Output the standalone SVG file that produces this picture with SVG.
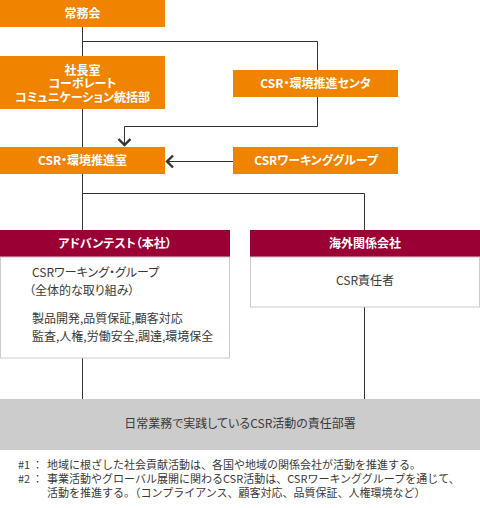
<svg xmlns="http://www.w3.org/2000/svg" width="480" height="508" viewBox="0 0 480 508">
<style>
text{font-family:"Noto Sans CJK JP","Noto Sans",sans-serif;font-feature-settings:"palt";}
.ob{fill:#f08300;}
.rh{fill:#9b0035;}
.bd{fill:#fff;stroke:#cccccc;stroke-width:1;}
.wt{fill:#fff;font-size:12px;font-weight:bold;text-anchor:middle;}
.gt{fill:#3a3a3a;font-size:12px;}
.ft{fill:#3a3a3a;font-size:11px;font-feature-settings:normal;}
.ln{fill:none;stroke:#333;stroke-width:1;}
.ah{fill:none;stroke:#333;stroke-width:2.4;}
</style>
<g id="connectors">
<path class="ln" d="M82.5 27V147"/>
<path class="ln" d="M82.5 41.5H317.5V126.5H124.5V144"/>
<path class="ah" d="M118.5 139L124.5 145L130.5 139"/>
<path class="ln" d="M233 161.5H168"/>
<path class="ah" d="M173 155.5L167 161.5L173 167.5"/>
<path class="ln" d="M82.5 174V230M82.5 193.5H364.5V230"/>
<path class="ln" d="M82.5 358V399M364.5 307V399"/>
</g>
<g id="jomukai">
<rect class="ob" x="0" y="0" width="165" height="27"/>
<text class="wt" x="82.5" y="18">常務会</text>
</g>
<g id="shachoshitsu">
<rect class="ob" x="0" y="56" width="165" height="53"/>
<text class="wt" x="82.5" y="74.5">社長室</text>
<text class="wt" x="82.5" y="88">コーポレート</text>
<text class="wt" x="82.5" y="101.5">コミュニケーション統括部</text>
</g>
<g id="csr-center">
<rect class="ob" x="233" y="70" width="165" height="27"/>
<text class="wt" x="315.5" y="88">CSR・環境推進センタ</text>
</g>
<g id="csr-shitsu">
<rect class="ob" x="0" y="147" width="165" height="27"/>
<text class="wt" x="82.5" y="165">CSR・環境推進室</text>
</g>
<g id="csr-wg">
<rect class="ob" x="233" y="147" width="165" height="27"/>
<text class="wt" x="316" y="165">CSRワーキンググループ</text>
</g>
<g id="advantest">
<rect class="rh" x="0" y="230" width="230" height="27"/>
<text class="wt" x="115" y="248">アドバンテスト（本社）</text>
<rect class="bd" x="0.5" y="257" width="229" height="101"/>
<text class="gt" x="32" y="277">CSRワーキング・グループ</text>
<text class="gt" x="29" y="295">（全体的な取り組み）</text>
<text class="gt" x="32" y="323">製品開発,品質保証,顧客対応</text>
<text class="gt" x="32" y="341">監査,人権,労働安全,調達,環境保全</text>
</g>
<g id="kaigai">
<rect class="rh" x="250" y="230" width="230" height="27"/>
<text class="wt" x="365" y="248">海外関係会社</text>
<rect class="bd" x="250.5" y="257" width="229" height="50"/>
<text class="gt" x="365" y="285" text-anchor="middle">CSR責任者</text>
</g>
<g id="nichijo">
<rect fill="#cccccc" x="0" y="399" width="480" height="51"/>
<text class="gt" x="240" y="428" text-anchor="middle">日常業務で実践しているCSR活動の責任部署</text>
</g>
<g id="notes">
<text class="ft" y="469"><tspan x="18">#1</tspan><tspan x="32">：</tspan><tspan x="47">地域に根ざした社会貢献活動は、各国や地域の関係会社が活動を推進する。</tspan></text>
<text class="ft" y="483"><tspan x="18">#2</tspan><tspan x="32">：</tspan><tspan x="47">事業活動やグローバル展開に関わるCSR活動は、CSRワーキンググループを通じて、</tspan></text>
<text class="ft" x="47" y="497">活動を推進する。（コンプライアンス、顧客対応、品質保証、人権環境など）</text>
</g>
</svg>
